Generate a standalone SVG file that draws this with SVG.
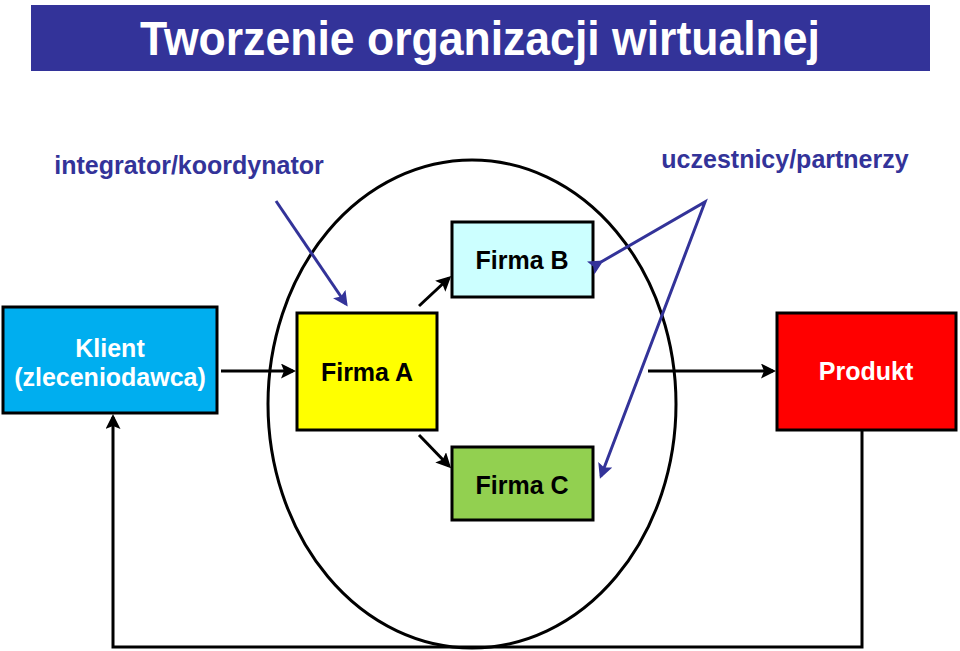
<svg xmlns="http://www.w3.org/2000/svg" width="960" height="651" viewBox="0 0 960 651">
<defs>
<marker id="ab" markerWidth="5" markerHeight="5" refX="4" refY="2.5" orient="auto" markerUnits="strokeWidth"><path d="M0,0 L5,2.5 L0,5 L1,2.5 z" fill="#000"/></marker>
<marker id="au" markerWidth="5" markerHeight="5" refX="4" refY="2.5" orient="auto" markerUnits="strokeWidth"><path d="M0,0 L5,2.5 L0,5 L1,2.5 z" fill="#333399"/></marker>
</defs>
<style>
text{font-family:"Liberation Sans",Arial,sans-serif;font-weight:bold;text-anchor:middle}
.box{stroke:#000;stroke-width:3}
.lbl{font-size:25px;fill:#000}
.wl{font-size:25px;fill:#fff}
.bl{font-size:25px;fill:#333399}
.c{fill:none;stroke:#000;stroke-width:3}
.u{fill:none;stroke:#333399;stroke-width:3}
</style>
<rect width="960" height="651" fill="#fff"/>
<g id="title">
<rect x="31" y="5" width="899" height="66" fill="#333399"/>
<text x="480" y="55" font-size="48" fill="#fff" textLength="680" lengthAdjust="spacingAndGlyphs">Tworzenie organizacji wirtualnej</text>
</g>
<g id="circle"><ellipse cx="472" cy="404" rx="204" ry="244" class="c"/></g>
<g id="label-integrator"><text x="189" y="174" class="bl">integrator/koordynator</text></g>
<g id="label-uczestnicy"><text x="785" y="168" class="bl">uczestnicy/partnerzy</text></g>
<g id="klient">
<rect x="3" y="307" width="214" height="106" fill="#00AEEF" class="box"/>
<text x="110" y="357" class="wl">Klient</text>
<text x="110" y="386" class="wl">(zleceniodawca)</text>
</g>
<g id="firmaA">
<rect x="297" y="313" width="140" height="117" fill="#FFFF00" class="box"/>
<text x="367" y="381" class="lbl">Firma A</text>
</g>
<g id="firmaB">
<rect x="452" y="222" width="141" height="75" fill="#CCFFFF" class="box"/>
<text x="522" y="269" class="lbl">Firma B</text>
</g>
<g id="firmaC">
<rect x="452" y="447" width="141" height="73" fill="#92D050" class="box"/>
<text x="522" y="494" class="lbl">Firma C</text>
</g>
<g id="produkt">
<rect x="777" y="313" width="179" height="117" fill="#FF0000" class="box"/>
<text x="866" y="380" class="wl">Produkt</text>
</g>
<g id="connectors">
<line x1="221" y1="371" x2="293" y2="371" class="c" marker-end="url(#ab)"/>
<line x1="648" y1="371" x2="773" y2="371" class="c" marker-end="url(#ab)"/>
<line x1="419" y1="306" x2="449" y2="278" class="c" marker-end="url(#ab)"/>
<line x1="419" y1="435" x2="449" y2="466" class="c" marker-end="url(#ab)"/>
<polyline points="862,430 862,647 113,647 113,417" class="c" marker-end="url(#ab)"/>
<line x1="276" y1="201" x2="346" y2="304" class="u" marker-end="url(#au)"/>
<polyline points="601,262 705,202 601,476" class="u" marker-start="url(#au)" marker-end="url(#au)"/>
</g>
</svg>
